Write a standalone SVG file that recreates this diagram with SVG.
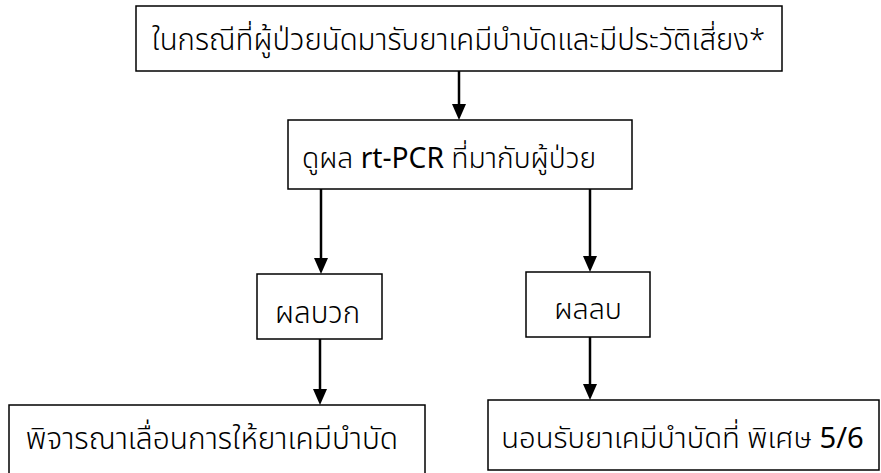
<svg xmlns="http://www.w3.org/2000/svg" width="881" height="473" viewBox="0 0 881 473">
<style>
.box{fill:#fff;stroke:#000;stroke-width:1.5}
.t{font-family:"Noto Sans Thai","Noto Sans","DejaVu Sans",sans-serif;font-weight:300;fill:#000;text-anchor:middle}
.b{font-weight:400}
.c{stroke:#000;stroke-width:2.5;fill:none}
.h{fill:#000}
</style>
<rect width="881" height="473" fill="#fff"/>
<g id="connectors">
<line class="c" x1="459" y1="71" x2="459" y2="106"/>
<line class="c" x1="321" y1="189" x2="321" y2="260"/>
<line class="c" x1="590" y1="189" x2="590" y2="258"/>
<line class="c" x1="320" y1="339" x2="320" y2="391"/>
<line class="c" x1="590" y1="337" x2="590" y2="386"/>
<path class="h" d="M452,104 L466,104 L459,120 Z"/>
<path class="h" d="M314,258 L328,258 L321,274 Z"/>
<path class="h" d="M583,256 L597,256 L590,272 Z"/>
<path class="h" d="M313,389 L327,389 L320,405 Z"/>
<path class="h" d="M583,384 L597,384 L590,400 Z"/>
</g>
<g id="n1"><rect class="box" x="136" y="6" width="646" height="65"/>
<text class="t" x="458.5" y="50" font-size="29.4">ในกรณีที่ผู้ป่วยนัดมารับยาเคมีบำบัดและมีประวัติเสี่ยง*</text></g>
<g id="n2"><rect class="box" x="288" y="120" width="344" height="69"/>
<text class="t" x="449" y="168" font-size="28.2">ดูผล <tspan class="b">rt-PCR</tspan> ที่มากับผู้ป่วย</text></g>
<g id="n3"><rect class="box" x="257" y="274" width="125" height="65"/>
<text class="t" x="317.5" y="323" font-size="29.5">ผลบวก</text></g>
<g id="n4"><rect class="box" x="526" y="272" width="124" height="65"/>
<text class="t" x="588" y="319" font-size="28.5">ผลลบ</text></g>
<g id="n5"><rect class="box" x="9" y="405" width="416" height="75"/>
<text class="t" x="212" y="449" font-size="29.9">พิจารณาเลื่อนการให้ยาเคมีบำบัด</text></g>
<g id="n6"><rect class="box" x="488" y="400" width="391" height="70"/>
<text class="t" x="682.5" y="448" font-size="29.2">นอนรับยาเคมีบำบัดที่ พิเศษ <tspan class="b">5/6</tspan></text></g>
</svg>
